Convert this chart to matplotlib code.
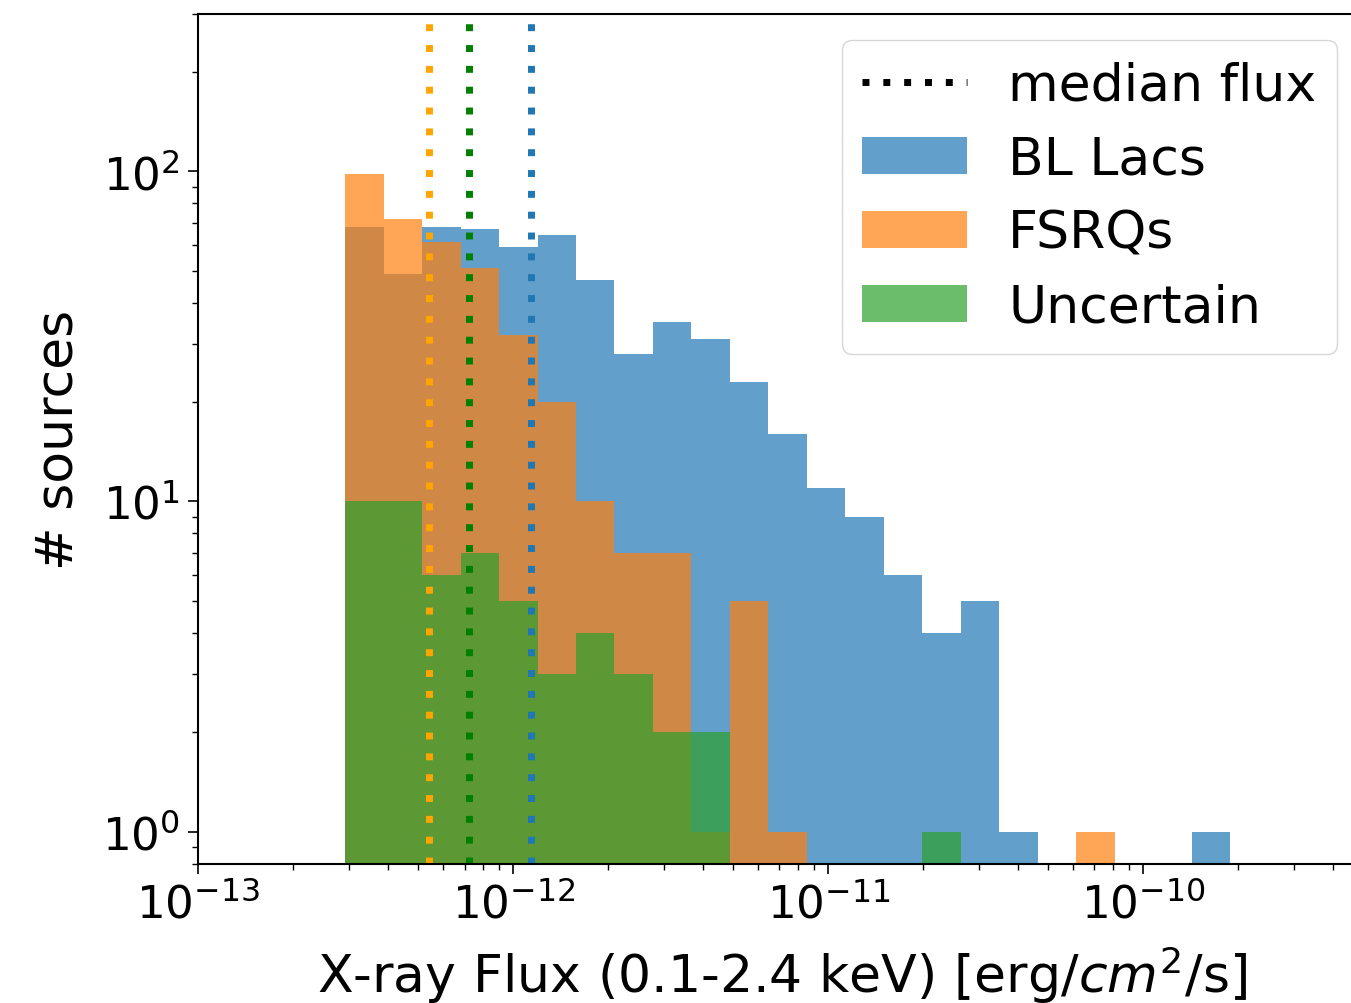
import numpy as np
import matplotlib
matplotlib.use("Agg")
import matplotlib.pyplot as plt
from matplotlib.lines import Line2D

# Logarithmic flux bins (0.1-2.4 keV), shared by all three classes
log_flux_min = -12.534
log_flux_max = -9.724
n_bins = 23

# Number of sources per bin
bl_lacs = [68, 49, 68, 67, 59, 64, 47, 28, 35, 31, 23, 16,
           11, 9, 6, 4, 5, 1, 0, 0, 0, 0, 1]
fsrqs = [98, 72, 61, 51, 32, 20, 10, 7, 7, 1, 5, 1,
         0, 0, 0, 0, 0, 0, 0, 1, 0, 0, 0]
uncertain = [10, 10, 6, 7, 5, 3, 4, 3, 2, 2, 0, 0,
             0, 0, 0, 1, 0, 0, 0, 0, 0, 0, 0]

# Median flux of each class [erg/cm^2/s]
median_bl = 1.14e-12
median_fsrq = 5.41e-13
median_unc = 7.22e-13

labels = ["BL Lacs", "FSRQs", "Uncertain"]
x_major_ticks = [1e-13, 1e-12, 1e-11, 1e-10]
y_major_ticks = [1, 10, 100]

edges = np.logspace(log_flux_min, log_flux_max, n_bins + 1)
centers = np.sqrt(edges[:-1] * edges[1:])

fig = plt.figure(figsize=(13.51, 10.04), dpi=100)
# the plot area runs past the right edge of the canvas; only its left part is shown
ax = fig.add_axes([0.14678, 0.13894, 0.85322, 0.84612])

label_fs = 37.5
tick_fs = 32.5

hist_colors = ["C0", "C1", "C2"]
series = [bl_lacs, fsrqs, uncertain]
patches = []
for counts, col, lab in zip(series, hist_colors, labels):
    _, _, p = ax.hist(centers, bins=edges, weights=counts, histtype="stepfilled",
                      color=col, alpha=0.7, linewidth=0, label=lab, log=True)
    patches.append(p[0])

dot_style = (0, (1, 2))
for med, col in [(median_fsrq, "orange"), (median_unc, "green"), (median_bl, "C0")]:
    ax.axvline(med, color=col, linestyle=dot_style, linewidth=5)

ax.set_xscale("log")
ax.set_yscale("log")
ax.set_xticks(x_major_ticks)
ax.set_yticks(y_major_ticks)
ax.set_xlim(1e-13, 4.565e-10)
ax.set_ylim(0.8, 300)
ax.spines["right"].set_visible(False)

ax.set_xlabel(r"X-ray Flux (0.1-2.4 keV) [erg/$cm^2$/s]", fontsize=label_fs,
              labelpad=12)
ax.xaxis.label.set_x(0.506)
ax.set_ylabel("# sources", fontsize=label_fs, labelpad=13)

ax.tick_params(axis="both", which="major", labelsize=tick_fs, length=7.5,
               width=1.2, pad=6)
ax.tick_params(axis="both", which="minor", length=4.5, width=1.0)
for sp in ax.spines.values():
    sp.set_linewidth(1.5)

median_handle = Line2D([], [], color="black", linestyle=dot_style, linewidth=5)
ax.legend([median_handle] + patches, ["median flux"] + labels,
          loc="upper right", bbox_to_anchor=(1.0108, 1.0),
          fontsize=label_fs, handlelength=2.0, handleheight=0.7,
          borderaxespad=0.5, labelspacing=0.46, handletextpad=0.8)

fig.savefig("out.png", dpi=100)
